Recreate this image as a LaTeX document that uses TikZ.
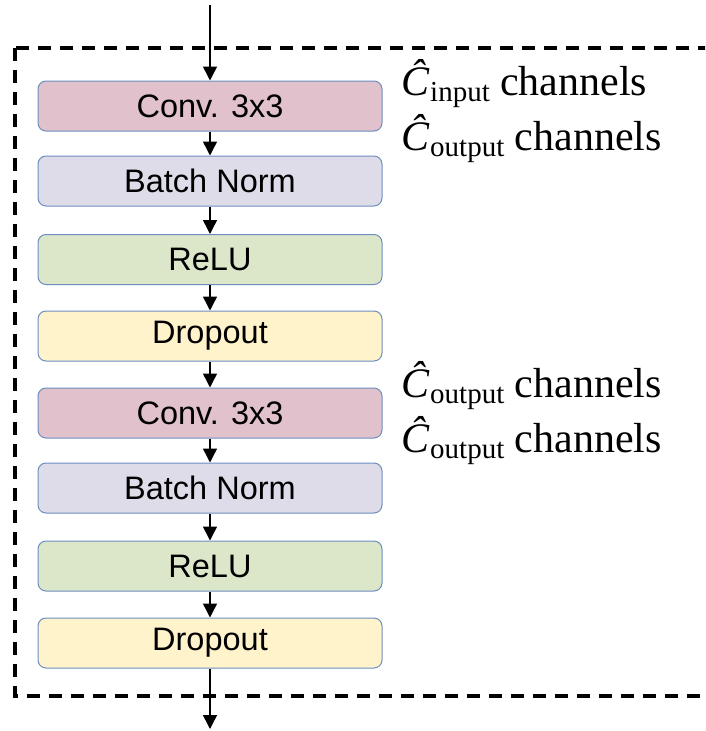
\documentclass[tikz,border=0pt]{standalone}
\usepackage{fontspec}
\setmainfont{Liberation Serif}
\newfontfamily\boxfont{Liberation Sans}
\usetikzlibrary{arrows.meta}
\definecolor{convc}{HTML}{E1C2CC}
\definecolor{bnc}{HTML}{DEDCE8}
\definecolor{reluc}{HTML}{DCE7CA}
\definecolor{dropc}{HTML}{FFF3CC}
\definecolor{edgec}{HTML}{6C8EBF}
\newcommand\chlabel[1]{{\itshape Ĉ}\kern1pt\raisebox{-6pt}{\fontsize{29}{31}\selectfont #1}\ channels}
\begin{document}
\begin{tikzpicture}[x=1pt,y=-1pt,
  layer/.style={draw=edgec, line width=1pt, rounded corners=8pt, minimum width=344pt, minimum height=50pt, inner sep=0pt, font=\boxfont\fontsize{32.5}{38}\selectfont},
  conv/.style={layer, fill=convc},
  bnorm/.style={layer, fill=bnc},
  relu/.style={layer, fill=reluc},
  drop/.style={layer, fill=dropc},
  flow/.style={line width=1.5pt, -{Triangle[width=14pt,length=14pt]}},
  dashbox/.style={line width=4pt, dash pattern=on 13pt off 9pt},
  lab/.style={anchor=base west, inner sep=0pt, font=\fontsize{42}{48}\selectfont}]
\clip (0,0) rectangle (705,731);
\useasboundingbox (0,0) rectangle (705,731);
\draw[dashbox] (15,48) rectangle (760,696);
\node[conv]  (conv1) at (210,106)   {Conv. 3x3};
\node[bnorm] (bn1)   at (210,181)   {Batch Norm};
\node[relu]  (relu1) at (210,259.5) {ReLU};
\node[drop]  (drop1) at (210,336)   {Dropout};
\node[conv]  (conv2) at (210,413)   {Conv. 3x3};
\node[bnorm] (bn2)   at (210,488)   {Batch Norm};
\node[relu]  (relu2) at (210,566)   {ReLU};
\node[drop]  (drop2) at (210,643)   {Dropout};
\coordinate (in) at (210,5);
\coordinate (out) at (210,729);
\draw[flow] (in) -- (conv1.north);
\draw[flow] (conv1.south) -- (bn1.north);
\draw[flow] (bn1.south) -- (relu1.north);
\draw[flow] (relu1.south) -- (drop1.north);
\draw[flow] (drop1.south) -- (conv2.north);
\draw[flow] (conv2.south) -- (bn2.north);
\draw[flow] (bn2.south) -- (relu2.north);
\draw[flow] (relu2.south) -- (drop2.north);
\draw[flow] (drop2.south) -- (out);
\node[lab] (l1) at (401,95)  {\chlabel{input}};
\node[lab] (l2) at (401,150) {\chlabel{output}};
\node[lab] (l3) at (401,397) {\chlabel{output}};
\node[lab] (l4) at (401,452) {\chlabel{output}};
\end{tikzpicture}
\end{document}
